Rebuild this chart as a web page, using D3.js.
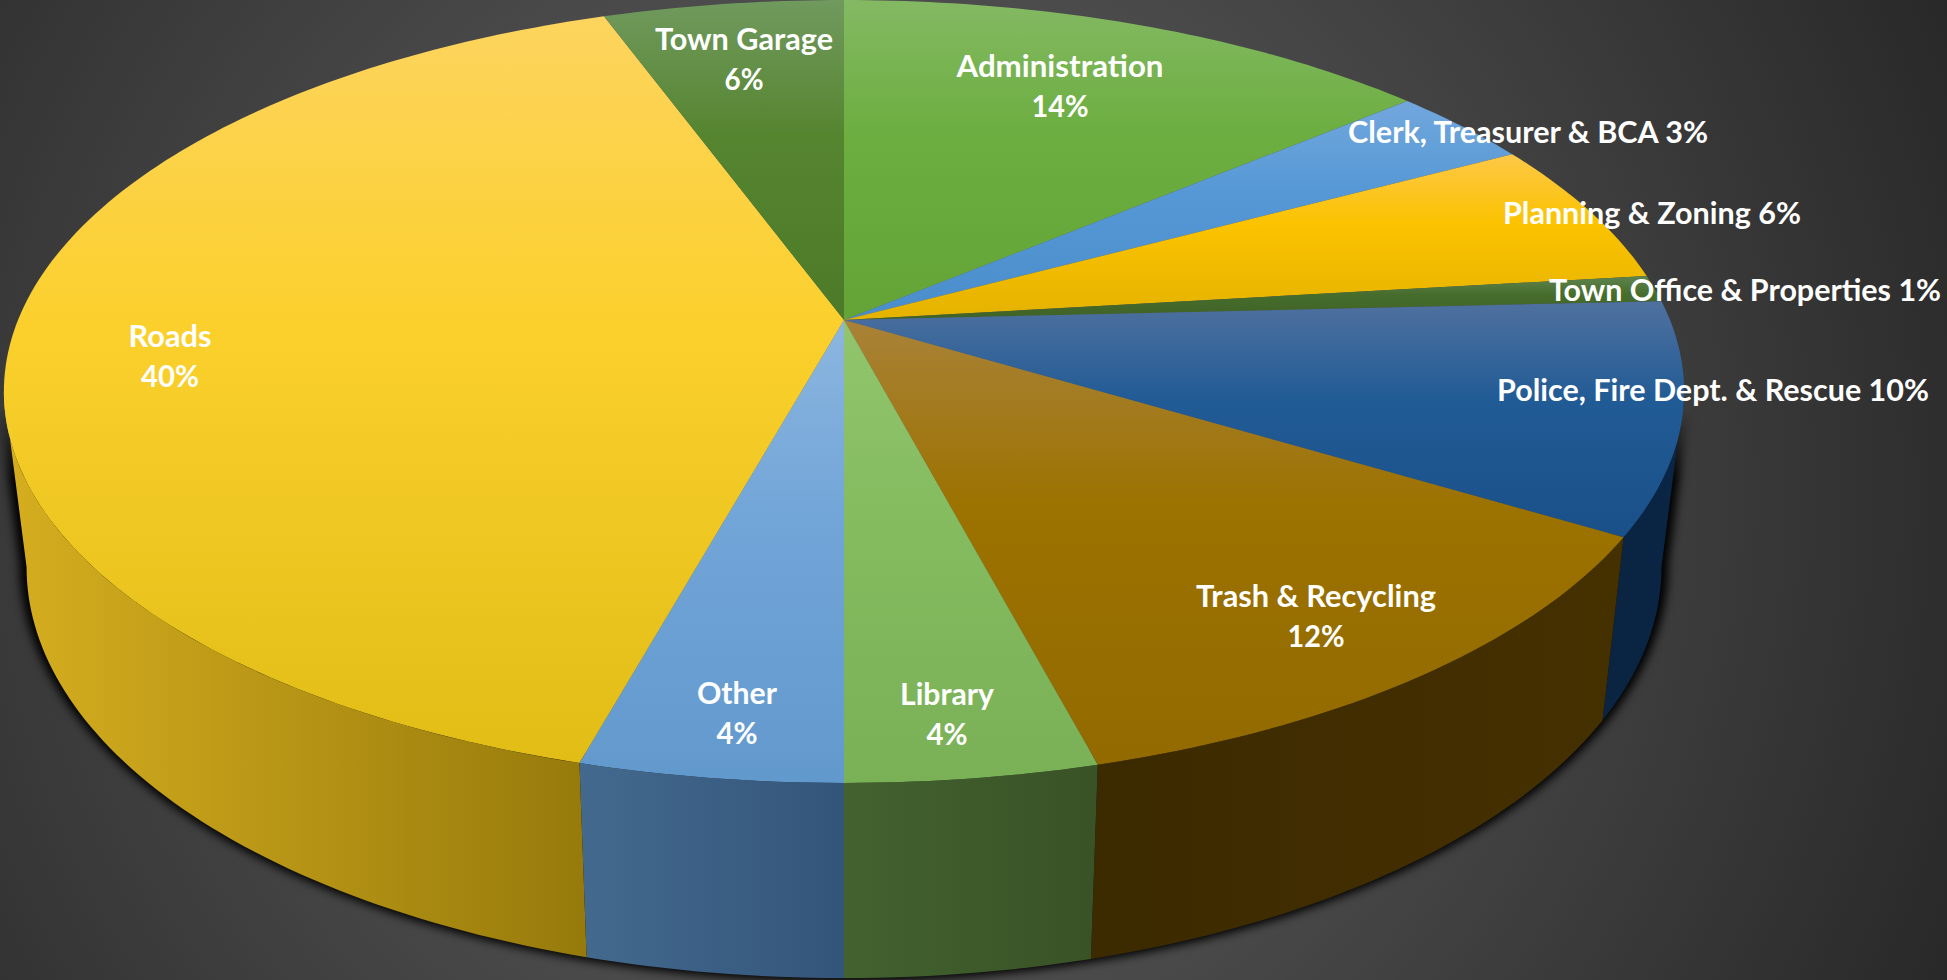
<!DOCTYPE html>
<html><head><meta charset="utf-8">
<script src="https://cdn.jsdelivr.net/npm/d3@7"></script>
<style>html,body{margin:0;padding:0;background:#333;overflow:hidden}svg{display:block}</style>
</head><body><div id="chart"></div>
<script>
// --- data ---
const categories = ["Administration","Clerk, Treasurer & BCA","Planning & Zoning","Town Office & Properties","Police, Fire Dept. & Rescue","Trash & Recycling","Library","Other","Roads","Town Garage"];
const shares = [13.8,3.3,6.0,1.1,9.5,12.23,4.07,4.25,40.22,5.53];
const percentLabels = ["14%","3%","6%","1%","10%","12%","4%","4%","40%","6%"];
// --- styles ---
const topColors = [
 ["#84b963","#6cae40","#64a436"],["#72a7dd","#5598d5","#4a8dcb"],["#fdc848","#fbc300","#e4b200"],["#5f8450","#466d2c","#3f6126"],
 ["#4f719f","#215b95","#1a5089"],["#a98238","#9c7200","#926a00"],["#92c56d","#85bc60","#7ab056"],["#8cb6df","#72a5d8","#6299cd"],
 ["#fdd45e","#fbd02c","#e1bd16"],["#709a5e","#568530","#4c7a28"]];
const wallColors = [null,null,null,null,["#0a2441","#0a2645"],["#3c2a00","#453000"],["#43622f","#395226"],["#436a8e","#34557a"],["#d6ae1f","#967a0b"],null];
const labelLayout = [ // text centre x, first-line centre y, width of lines, two-line flag
 {x:1060,y:65,w:[207,57],two:true},{x:1528,y:131,w:[360]},{x:1652,y:212,w:[298]},{x:1745,y:289,w:[392]},{x:1713,y:389,w:[432]},
 {x:1316,y:595,w:[240,57],two:true},{x:947,y:693,w:[94,41],two:true},{x:737,y:692,w:[80,41],two:true},{x:170,y:335,w:[83,58],two:true},{x:744,y:38,w:[178,39],two:true}];

const W=1947,H=980;
const cx=844,cy=320,A=826,B=378.4,k=0.1826;
const SX=0.973,SY=1.05,BY=492;
const wallFrom=100.5*Math.PI/180, wallTo=259.5*Math.PI/180;

const offset=a=>{const u=Math.sin(a),v=-Math.cos(a),w=1-k*v;return [A*u/w,B*v/w];};
const topPt=a=>{const [d,e]=offset(a);return [cx+d,cy+e];};
const botPt=a=>{const [d,e]=offset(a);return [cx+SX*d,BY+SY*e];};
const samples=(a0,a1)=>{const n=Math.max(2,Math.ceil((a1-a0)/(Math.PI/180)));return d3.range(n+1).map(i=>a0+(a1-a0)*i/n);};
const line=d3.line();

const svg=d3.select("#chart").append("svg").attr("width",W).attr("height",H).attr("viewBox",`0 0 ${W} ${H}`);
const defs=svg.append("defs");
const bg=defs.append("radialGradient").attr("id","bg").attr("gradientUnits","userSpaceOnUse").attr("cx",860).attr("cy",490).attr("r",1200);
bg.append("stop").attr("offset",0).attr("stop-color","#666666");
bg.append("stop").attr("offset",1).attr("stop-color","#282828");
svg.append("rect").attr("width",W).attr("height",H).attr("fill","url(#bg)");

const blur=defs.append("filter").attr("id","blur").attr("filterUnits","userSpaceOnUse").attr("x",-60).attr("y",300).attr("width",W+120).attr("height",H);
blur.append("feGaussianBlur").attr("stdDeviation",5);
const maskGrad=defs.append("linearGradient").attr("id","fadeGrad").attr("gradientUnits","userSpaceOnUse").attr("x1",0).attr("x2",0).attr("y1",410).attr("y2",480);
maskGrad.append("stop").attr("offset",0).attr("stop-color","#000");
maskGrad.append("stop").attr("offset",1).attr("stop-color","#fff");
defs.append("mask").attr("id","fade").attr("maskUnits","userSpaceOnUse").attr("x",0).attr("y",0).attr("width",W).attr("height",H)
  .append("rect").attr("width",W).attr("height",H).attr("fill","url(#fadeGrad)");

const slices=d3.pie().sort(null).value(d=>d)(shares);

slices.forEach((s,i)=>{
  const t=defs.append("linearGradient").attr("id","t"+i).attr("x1",0).attr("x2",0).attr("y1",0).attr("y2",1);
  [0,0.42,1].forEach((o,j)=>t.append("stop").attr("offset",o).attr("stop-color",topColors[i][j]));
  if(wallColors[i]){
    const g=defs.append("linearGradient").attr("id","w"+i).attr("x1",0).attr("x2",1).attr("y1",0).attr("y2",0);
    wallColors[i].forEach((c,j)=>g.append("stop").attr("offset",j).attr("stop-color",c));
  }
});

// shadow below the wall
const front=samples(wallFrom,wallTo);
const hull=front.map(topPt).concat(front.slice().reverse().map(botPt));
svg.append("g").attr("mask","url(#fade)").append("path")
  .attr("d",line(hull)+"Z").attr("fill","#000").attr("stroke","#000").attr("stroke-width",14)
  .attr("stroke-linejoin","round").attr("transform","translate(0,-4)").attr("filter","url(#blur)");

// side walls
svg.append("g").selectAll("path").data(slices.map((s,i)=>({s,i})).filter(d=>wallColors[d.i])).join("path")
  .attr("d",d=>{
    const a0=Math.max(d.s.startAngle,wallFrom),a1=Math.min(d.s.endAngle,wallTo);
    const a=samples(a0,a1);
    return line(a.map(topPt).concat(a.slice().reverse().map(botPt)))+"Z";
  })
  .attr("fill",d=>`url(#w${d.i})`);

// top face
svg.append("g").selectAll("path").data(slices).join("path")
  .attr("d",d=>line([[cx,cy]].concat(samples(d.startAngle,d.endAngle).map(topPt)))+"Z")
  .attr("fill",(d,i)=>`url(#t${i})`);

// labels
const labels=svg.append("g").attr("font-family","Lato, 'Open Sans', sans-serif").attr("font-weight",700).attr("font-size",31).attr("fill","#fff").attr("text-anchor","middle").attr("dominant-baseline","central");
categories.forEach((c,i)=>{
  const L=labelLayout[i];
  const lines=L.two?[c,percentLabels[i]]:[c+" "+percentLabels[i]];
  lines.forEach((t,j)=>{
    labels.append("text").attr("x",L.x).attr("y",L.y+j*40).attr("textLength",L.w[j]).attr("lengthAdjust","spacingAndGlyphs").text(t);
  });
});
</script></body></html>
